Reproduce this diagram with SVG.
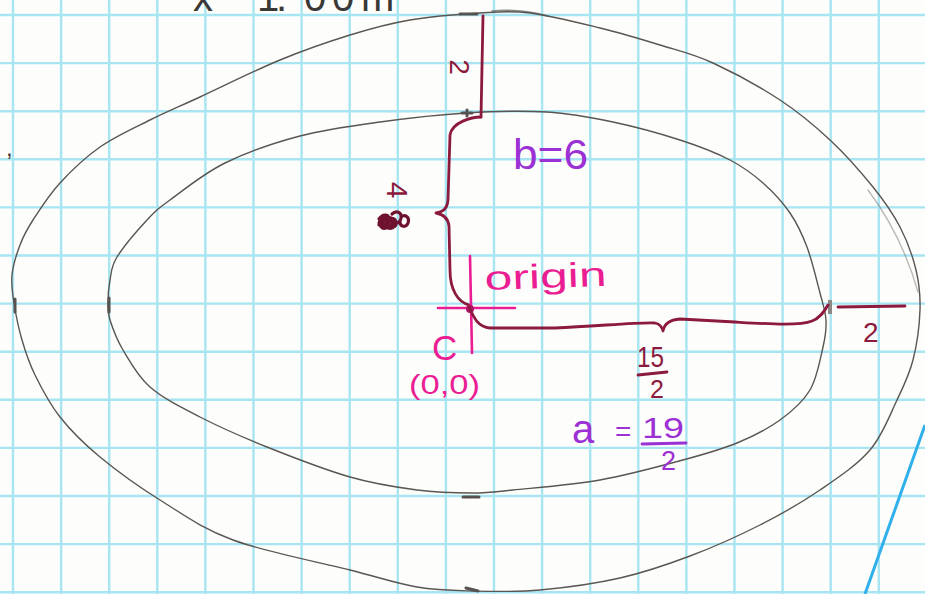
<svg xmlns="http://www.w3.org/2000/svg" width="925" height="594" viewBox="0 0 925 594">
<style>
.grid{stroke:#a8e5f2;stroke-width:2.4;fill:none}
.pen{stroke:#5a5652;stroke-width:1.4;fill:none;stroke-linecap:round;stroke-linejoin:round}
.tick{stroke:#55524f;stroke-width:3;fill:none;stroke-linecap:round}
.maroon{stroke:#8b1a3d;stroke-width:2.8;fill:none;stroke-linecap:round;stroke-linejoin:round}
.mag{stroke:#ea1d93;stroke-width:2.6;fill:none;stroke-linecap:round}
.t{font-family:"Liberation Sans","DejaVu Sans",sans-serif}
.tm{fill:#8b1a3d}
.tp{fill:#9b30d4}
.tg{fill:#ea1d93}
.tk{fill:#3a3836}
</style>
<rect width="925" height="594" fill="#fdfdfc"/>
<g id="grid">
<path class="grid" d="M13,0V594M61.1,0V594M109.2,0V594M157.3,0V594M205.4,0V594M253.5,0V594M301.6,0V594M349.7,0V594M397.8,0V594M445.9,0V594M494,0V594M542.1,0V594M590.2,0V594M638.3,0V594M686.4,0V594M734.5,0V594M782.6,0V594M830.7,0V594M878.8,0V594M0,15H925M0,63.1H925M0,111.2H925M0,159.3H925M0,207.4H925M0,255.5H925M0,303.6H925M0,351.7H925M0,399.8H925M0,447.9H925M0,496H925M0,544.1H925M0,592.2H925"/>
</g>
<g id="top-note">
<text class="t tk" font-size="40" y="11" x="193 257 276 304 332 361">x1.00m</text>
<text class="t tk" font-size="24" x="6" y="156">,</text>
</g>
<g id="outer-ellipse">
<path class="pen" d="M14,303 C12.3,292.2 11,284.7 12,275 S16.5,254.2 20,245 S26.3,230.3 33,220 S48.8,195.2 60,183 S85,157.5 100,147 S133.3,128.3 150,120 S178.3,107 200,97 S255,70.3 280,60 S328.3,41.7 350,35 S388.3,23.7 410,20 S460,14.2 480,13 S510,10.5 530,13 S578.3,22.7 600,28 S641.2,39.2 660,45 S693,53.8 713,63 S760.5,87.2 780,100 S814.5,125.5 830,140 S861.3,172.5 873,187 S892.8,213.2 900,227 S912.7,256.2 916,270 S920.5,295 920,310 S916.8,345 913,360 S904.2,385 897,400 S882.8,435 870,450 S838.3,477.5 820,490 S781.7,514 760,525 S713.3,547.2 690,556 S645,572.3 620,578 S564.5,587.8 540,590 S493.5,591.5 473,591 S437.5,590.5 417,587 S380.7,577.8 350,570 S264.7,551.7 233,540 S182.2,513.8 160,500 S116.7,470.8 100,457 S70.8,430.7 60,417 S41.3,387.8 35,375 S25.5,352 22,340 S15.7,313.8 14,303 Z"/>
<path class="pen" d="M492,11 C510,9 530,11 548,16" opacity="0.7"/>
<path class="pen" d="M868,190 C886,214 906,250 918,292" opacity="0.4"/>
<path class="tick" d="M15,299V312M460,14H477M466,588L478,591"/>
</g>
<g id="inner-ellipse">
<path class="pen" d="M108,303 C108,296.3 108.5,287.7 110,280 S110.8,267 117,257 S138.2,229.5 147,220 S157,209.5 170,200 S203.3,173.7 225,163 S274.2,142.8 300,136 S352.3,125.8 380,122 S438.2,114.7 466,113 S522.5,110.5 547,112 S590.8,117.3 613,122 S660.5,133.7 680,140 S716.2,152.8 730,160 S753,174.2 763,183 S782.7,202.3 790,213 S802,233.7 807,247 S816.8,280.8 820,293 S825.5,311 826,320 S825.7,335.3 823,347 S817.2,377.8 810,390 S792.2,411.2 780,420 S753.2,436.3 737,443 S705.8,453.8 683,460 S628.3,475 600,480 S534.2,487.8 513,490 S489,493 473,493 S437.5,492.7 417,490 S375,484.2 350,477 S292,457 267,447 S219.5,427 200,417 S162.8,398.2 150,387 S129.7,361.2 123,350 S112.5,327.8 110,320 S108,309.7 108,303 Z"/>
<path class="tick" d="M109,298V312M462,113H472M467,110V116M463,497H479"/>
<path d="M830,300V314" stroke="#8a8784" stroke-width="4" fill="none"/>
</g>
<g id="minor-axis">
<path class="maroon" d="M483,16 L481,117"/>
<text class="t tm" font-size="28" transform="translate(459,67) rotate(90)" text-anchor="middle" dominant-baseline="central">2</text>
<path class="maroon" d="M481,117 C472,117 452,122 450,135 L448,200 C447,210 442,212 436,213 C442,214 448,217 449,226 L450,270 C450,290 458,302 469,305"/>
<text class="t tm" font-size="30" transform="translate(397,190) rotate(90)" text-anchor="middle" dominant-baseline="central">4</text>
<path d="M379,225 c0,-8 9,-10 10,-3 c1,7 -8,9 -9,2 c0,-7 10,-10 12,-3 c2,7 -7,10 -9,3 c-1,-7 10,-9 12,-2 c1,7 -8,9 -9,2 c0,-6 9,-8 10,-2 c1,6 -6,7 -7,2 M379,219 c4,-6 11,-5 10,2 c-1,6 -7,6 -8,1 M392,214 c4,-4 10,-2 9,4 c-1,6 -8,7 -9,2 M401,217 c4,-3 9,0 7,6 c-2,5 -8,4 -8,-1" stroke="#6e1230" stroke-width="3.2" fill="none" stroke-linecap="round"/>
<text class="t tp" font-size="42" x="513" y="169" textLength="75" lengthAdjust="spacingAndGlyphs">b=6</text>
</g>
<g id="origin">
<path class="mag" d="M438,308 L515,308 M470,256 L472,353"/>
<circle cx="470" cy="309" r="4" fill="#b0126a"/>
<text class="t tg" font-size="34" x="485" y="290" textLength="122" lengthAdjust="spacingAndGlyphs" transform="rotate(-2 485 290)">origin</text>
<text class="t tg" font-size="35" x="432" y="360">C</text>
<text class="t tg" font-size="27" x="409" y="394" textLength="71" lengthAdjust="spacingAndGlyphs">(0,0)</text>
</g>
<g id="major-axis">
<path class="maroon" d="M469,307 C474,318 478,327 490,328 L555,328 C600,326 640,322 655,323 C660,324 662,327 663,331 C664,325 668,320 680,319 L735,322 C770,324 800,326 812,321 C820,318 824,312 828,305"/>
<text class="t tm" font-size="30" x="637" y="367" textLength="27" lengthAdjust="spacingAndGlyphs">15</text>
<path class="maroon" d="M638,375 L667,372"/>
<text class="t tm" font-size="25" x="650" y="398">2</text>
<path class="maroon" d="M838,307 L905,306"/>
<text class="t tm" font-size="28" x="863" y="342">2</text>
<text class="t tp" font-size="40" x="572" y="443">a</text>
<text class="t tp" font-size="28" x="615" y="441">=</text>
<text class="t tp" font-size="30" x="642" y="438" textLength="42" lengthAdjust="spacingAndGlyphs">19</text>
<path d="M642,444 L686,443" stroke="#9b30d4" stroke-width="2.8" stroke-linecap="round"/>
<text class="t tp" font-size="27" x="661" y="470">2</text>
</g>
<path d="M925,425 L865,594" stroke="#2fb0ea" stroke-width="3" fill="none"/>
</svg>
